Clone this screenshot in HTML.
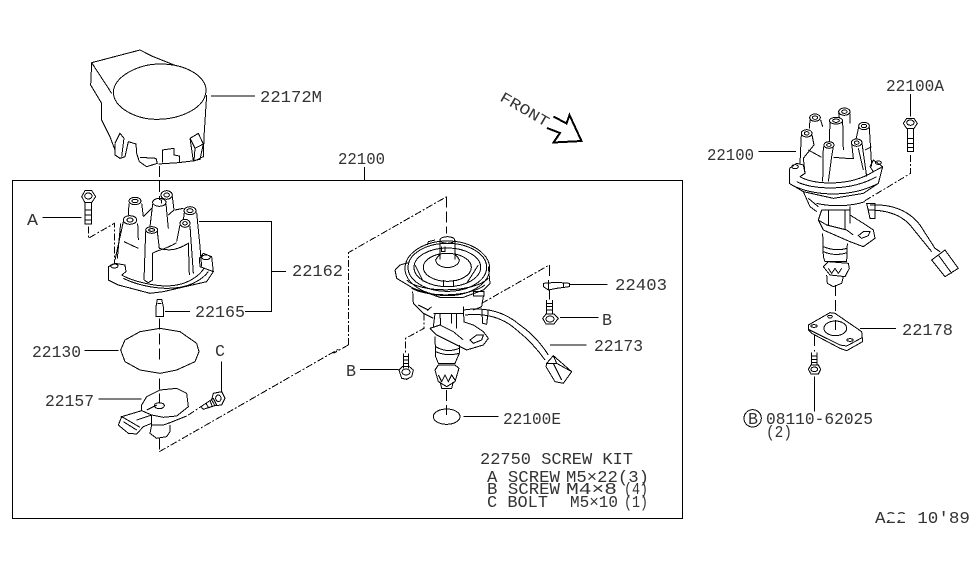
<!DOCTYPE html>
<html><head><meta charset="utf-8"><style>
html,body{margin:0;padding:0;background:#fff;width:975px;height:566px;overflow:hidden}
svg{display:block}
svg *{vector-effect:non-scaling-stroke}
path,ellipse,rect,circle{fill:none;stroke:#000;stroke-width:1;shape-rendering:crispEdges}
.d{stroke-dasharray:11 4}
.t{stroke-dasharray:7 2 2 2}
text{font-family:"Liberation Mono",monospace;font-size:17px;fill:#333;stroke:none}
</style></head><body>
<svg width="975" height="566" viewBox="0 0 975 566" xmlns="http://www.w3.org/2000/svg">
<rect x="12.5" y="180.5" width="670" height="338" style="stroke-width:1"/>
<path d="M364.5 167V180"/>

<g transform="translate(0,40) scale(.33333)">
<path d="M275 68L420 30L455 48L530 78M275 68L272 135L305 190L305 240L330 290L345 330M275 68L335 160"/>
<path d="M340 155C345 105 420 72 480 72C560 72 618 110 618 150C618 205 540 238 470 238C410 238 340 205 340 155Z"/>
<path d="M620 165L612 290L610 350L585 362L535 368L475 372M345 310L345 345L360 355L375 350L385 305L408 312L410 340L418 365L440 380L472 370L468 355L420 352M487 368L487 330L522 325L522 345L538 348L538 368M345 310L360 280L372 295L365 350M570 295L595 280L610 312L600 358L580 362L570 295M570 295L585 325L610 312M585 325L582 362"/>
<path d="M633 168H765M127 533H245M597 545H815V800M815 695H858"/>
<path class="d" d="M478 378V480"/>
<path d="M245 470L255 452L275 452L287 470L275 488L255 488ZM255 488V552H275V488M255 510H275M255 525H275M255 540H275"/>
<ellipse cx="265" cy="468" rx="11" ry="9"/>
<path class="t" d="M265 560V595L343 550V670"/>
<ellipse cx="500" cy="465" rx="17" ry="13"/><ellipse cx="500" cy="465" rx="8" ry="6"/>
<ellipse cx="405" cy="483" rx="18" ry="11"/><ellipse cx="405" cy="483" rx="9" ry="5"/>
<ellipse cx="478" cy="487" rx="20" ry="12"/>
<ellipse cx="570" cy="512" rx="18" ry="12"/><ellipse cx="570" cy="512" rx="9" ry="6"/>
<ellipse cx="390" cy="540" rx="20" ry="13"/><ellipse cx="390" cy="540" rx="9" ry="6"/>
<ellipse cx="455" cy="570" rx="18" ry="10"/><ellipse cx="455" cy="570" rx="9" ry="4"/>
<ellipse cx="555" cy="550" rx="15" ry="12"/><ellipse cx="555" cy="550" rx="7" ry="5"/>
<path d="M483 475L485 490M517 470L522 510L505 525M387 490L385 525M425 490L430 530M458 492L450 560M498 492L505 565M553 518L550 540M590 518L600 620L605 680M370 545L345 660M413 550L415 600M437 575L432 720M472 575L478 625M540 555L530 605M570 558L580 700M430 530L455 505M525 510L550 505M362 550L352 655"/>
<path d="M372 605L415 625M478 625C510 635 535 628 565 610L568 705M432 720L445 728L458 720L458 640C470 630 490 632 530 608"/>
<path d="M325 680L345 670L375 675L378 695L365 705M325 680L325 720L355 735L450 760L490 755L620 725L640 695L635 650L610 640L598 655L600 680L640 695"/>
<path d="M365 705C400 725 480 745 530 735C570 728 600 705 612 685M370 715C410 735 480 752 540 742C580 735 610 715 625 695"/>
<ellipse cx="343" cy="678" rx="11" ry="6"/><ellipse cx="618" cy="652" rx="13" ry="7"/>
</g>

<g transform="translate(0,290) scale(.33333)">
<path d="M472 28H485L490 50V80H468V50ZM472 40H485"/>
<path class="d" d="M478 85V215M478 265V340M478 445V485"/>
<path d="M362 180L375 150L420 125L480 115L540 125L590 160L597 185L585 215L530 240L480 250L420 240L375 215ZM735 65H815V0M495 65H570M253 182H355M295 327H425M665 215V305"/>
<path d="M425 345L440 320L480 300L530 295L560 310L565 350L530 378L490 382L455 375L425 362ZM425 362L365 380L355 405L385 430L410 432L430 410L455 400M362 378L420 412M370 395L410 420"/>
<ellipse cx="478" cy="347" rx="15" ry="9"/>
<path d="M440 360L470 345M410 390L455 375M455 375V405L450 430L470 445L500 440L510 425V405M455 405L490 405L510 398L560 378"/>
<path d="M603 350L640 325L650 345L610 358ZM640 310L665 305L675 325L665 345L645 347L635 330ZM618 340L625 352M630 332L636 347"/>
<ellipse cx="655" cy="325" rx="8" ry="10"/>
<path class="t" d="M565 375L603 350M478 485L1015 178"/>
</g>

<g transform="translate(340,190) scale(.33333)">
<path class="t" d="M25 465V188L320 20"/>
<path class="d" d="M320 20V130"/>
<path class="t" d="M25 465L-20 490"/>
<path d="M165 240L180 225L205 218M165 240L170 265L220 295L300 322L370 322L430 300L450 280L445 230"/>
<ellipse cx="322" cy="235" rx="127" ry="82"/><ellipse cx="322" cy="232" rx="118" ry="72"/><ellipse cx="322" cy="232" rx="100" ry="58"/><ellipse cx="322" cy="232" rx="72" ry="42"/>
<path d="M200 270C240 310 400 310 445 265M215 295C260 320 380 325 435 285M225 225L250 275M415 225L380 280M310 270V290M340 270V290M265 155L285 150M265 155L262 165"/>
<ellipse cx="322" cy="150" rx="22" ry="10"/>
<path d="M300 150V208M345 150V208M287 210C290 240 355 240 358 210M287 210C295 195 300 195 300 195M358 210C350 195 345 195 345 195M305 170V185H315V170"/>
<path d="M218 305L220 340L250 370L280 385M430 320L425 350L400 360M235 345L265 360M400 305H432V318H400Z"/>
<path d="M262 362L275 350M280 370H370M285 370L280 410M300 372L302 405M350 372L350 415M335 372L335 400M370 350L372 395"/>
<path d="M270 415L290 435L350 465L380 480L430 465L445 445L430 425L400 405L370 395M270 415L300 405L340 425L370 450"/>
<path d="M390 450L410 435L430 435L425 450L400 460Z"/>
<path d="M285 440L287 500L295 520L345 520L358 490L358 465M287 470Q320 490 358 475M287 485Q320 500 358 490"/>
<path d="M285 540L295 575L320 590L345 575L357 535L345 525L295 525ZM295 555L305 575L315 555L325 575L335 555L345 570M300 575L305 595L335 595L340 575"/>
<path class="d" d="M320 600V675"/>
<ellipse cx="320" cy="680" rx="40" ry="23"/>
<path d="M370 680H475M60 538H175M660 383H775M690 283H803M630 465H740"/>
<path d="M370 360Q470 345 540 405Q590 440 625 495M375 375Q470 365 530 420Q580 460 615 510"/>
<path d="M620 520L640 497L695 545L670 580L645 575L618 530ZM640 520L665 570M640 497L650 520L620 520M650 520L695 545"/>
<path d="M425 355L428 400L440 403L445 360"/>
<path class="t" d="M252 370V415L197 445V490M425 340L628 225"/>
<path class="d" d="M628 225V270"/>
<path d="M190 490V535M205 490V535M190 500H205M190 510H205M190 520H205M177 540L187 530H208L220 540L215 560L200 568L185 565Z"/>
<ellipse cx="198" cy="546" rx="12" ry="9"/>
<path d="M610 280L650 277L688 280V290L650 295L625 300L610 290ZM625 270V300M670 278V292"/>
<path class="d" d="M628 300V328"/>
<path d="M620 330V372M637 330V372M620 340H637M620 350H637M620 360H637M608 385L618 372H642L655 385L642 402H618Z"/>
<ellipse cx="630" cy="387" rx="12" ry="9"/>
</g>

<g transform="translate(690,70) scale(.33333)">
<ellipse cx="463" cy="125" rx="17" ry="11"/><ellipse cx="463" cy="125" rx="8" ry="5"/>
<ellipse cx="375" cy="143" rx="16" ry="11"/><ellipse cx="375" cy="143" rx="8" ry="5"/>
<ellipse cx="438" cy="152" rx="20" ry="10"/><ellipse cx="438" cy="152" rx="10" ry="5"/>
<ellipse cx="522" cy="168" rx="16" ry="11"/><ellipse cx="522" cy="168" rx="8" ry="5"/>
<ellipse cx="350" cy="190" rx="16" ry="11"/><ellipse cx="350" cy="190" rx="7" ry="5"/>
<ellipse cx="417" cy="225" rx="15" ry="10"/><ellipse cx="417" cy="225" rx="7" ry="4"/>
<ellipse cx="500" cy="218" rx="16" ry="11"/><ellipse cx="500" cy="218" rx="7" ry="5"/>
<path d="M446 130L448 142M480 130L480 160M360 150L358 175M392 150L398 170M420 155L418 215M458 155L460 240M506 172L498 208M538 172L545 290M334 195L330 280M366 195L372 225L340 265L345 310M400 230L398 335M430 230L425 260L415 335M485 220L490 265L470 265L430 262M516 220L530 320M525 240L545 230M355 240L395 262M505 235L520 300"/>
<path d="M298 295L320 280L340 285L345 310L330 320M298 295L298 340L340 365L430 385L520 370L565 340L578 290L550 270L540 290L550 305L578 290"/>
<path d="M330 320C370 345 480 350 550 305M320 335C370 360 480 365 560 320M305 345C370 378 480 385 565 340"/>
<ellipse cx="315" cy="290" rx="10" ry="6"/><ellipse cx="565" cy="278" rx="9" ry="5"/>
<path d="M340 365L360 410L380 425M355 385L385 410M380 400C420 410 480 410 525 395M395 420H480M395 420L385 450M415 420V465M465 420V480M480 410V460"/>
<path d="M385 450L400 480L480 515L520 530L555 505L550 480L520 460L480 435M385 450L410 465L470 480L490 495"/>
<path d="M505 497L520 485H540L535 497L515 505Z"/>
<path d="M398 490L400 560L405 575L470 575L472 520M400 530Q435 545 472 535M400 545Q435 560 472 548"/>
<path d="M400 590L415 575L475 580L478 595L465 620L420 615ZM415 595L425 610L435 595L445 610L455 595M410 615L412 640L430 650L455 640L460 620"/>
<path d="M540 405Q640 400 690 465L735 535M535 420Q620 420 660 465L725 545M530 400H555L555 445H540Z"/>
<path d="M725 570L765 540L805 595L765 620ZM745 555L785 610M735 535L750 545"/>
<path d="M205 245H318M662 72V140M640 160L650 145H672L682 160L672 175H650ZM652 175V245H670V175M652 205H670M652 220H670M652 232H670"/>
<ellipse cx="661" cy="158" rx="11" ry="8"/>
<path class="t" d="M662 255V310L525 392"/>
<path class="d" d="M436 645V720"/>
</g>

<g transform="translate(690,300) scale(.33333)">
<path class="d" d="M436 0V40M436 60V90"/>
<path d="M355 75L420 38L435 40L515 95L518 125L470 152L450 145L365 100L355 90ZM355 88L450 135L470 138L518 112"/>
<ellipse cx="372" cy="78" rx="9" ry="4"/><ellipse cx="420" cy="50" rx="7" ry="4"/><ellipse cx="480" cy="120" rx="9" ry="4"/><ellipse cx="436" cy="85" rx="34" ry="22"/>
<path d="M510 85H618M373 230V335M365 158V195H381V158M365 168H381M365 178H381M365 188H381M355 208L363 195H385L392 208L385 222H363Z"/>
<ellipse cx="373" cy="208" rx="10" ry="7"/>
<path class="d" d="M373 105V155"/>
<circle cx="188" cy="355" r="26"/>
</g>

<path d="M553.5 116.5L566.5 123.5L569.5 115L581.5 141L553.5 142.5L560 133L547 128" style="stroke-width:2"/>

<text x="260" y="102" textLength="62" lengthAdjust="spacingAndGlyphs">22172M</text>
<text x="338" y="164" textLength="47" lengthAdjust="spacingAndGlyphs">22100</text>
<text x="27" y="225" textLength="11" lengthAdjust="spacingAndGlyphs">A</text>
<text x="292" y="276" textLength="51" lengthAdjust="spacingAndGlyphs">22162</text>
<text x="195" y="317" textLength="50" lengthAdjust="spacingAndGlyphs">22165</text>
<text x="32" y="357" textLength="49" lengthAdjust="spacingAndGlyphs">22130</text>
<text x="215" y="356" textLength="10" lengthAdjust="spacingAndGlyphs">C</text>
<text x="45" y="406" textLength="49" lengthAdjust="spacingAndGlyphs">22157</text>
<text x="615" y="290" textLength="52" lengthAdjust="spacingAndGlyphs">22403</text>
<text x="602" y="325" textLength="10" lengthAdjust="spacingAndGlyphs">B</text>
<text x="594" y="351" textLength="49" lengthAdjust="spacingAndGlyphs">22173</text>
<text x="346" y="376" textLength="10" lengthAdjust="spacingAndGlyphs">B</text>
<text x="503" y="424" textLength="58" lengthAdjust="spacingAndGlyphs">22100E</text>
<text x="707" y="160" textLength="47" lengthAdjust="spacingAndGlyphs">22100</text>
<text x="886" y="91" textLength="58" lengthAdjust="spacingAndGlyphs">22100A</text>
<text x="902" y="335" textLength="51" lengthAdjust="spacingAndGlyphs">22178</text>
<text x="748" y="424" textLength="10" lengthAdjust="spacingAndGlyphs">B</text>
<text x="766" y="424" textLength="107" lengthAdjust="spacingAndGlyphs">08110-62025</text>
<text x="766" y="437" textLength="26" lengthAdjust="spacingAndGlyphs">(2)</text>
<text x="480" y="464" textLength="153" lengthAdjust="spacingAndGlyphs">22750 SCREW KIT</text>
<text x="487" y="482" textLength="73" lengthAdjust="spacingAndGlyphs">A SCREW</text>
<text x="566" y="482" textLength="83" lengthAdjust="spacingAndGlyphs">M5×22(3)</text>
<text x="487" y="494" textLength="73" lengthAdjust="spacingAndGlyphs">B SCREW</text>
<text x="566" y="494" textLength="51" lengthAdjust="spacingAndGlyphs">M4×8</text>
<text x="624" y="494" textLength="24" lengthAdjust="spacingAndGlyphs">(4)</text>
<text x="487" y="507" textLength="61" lengthAdjust="spacingAndGlyphs">C BOLT</text>
<text x="570" y="507" textLength="48" lengthAdjust="spacingAndGlyphs">M5×10</text>
<text x="624" y="507" textLength="24" lengthAdjust="spacingAndGlyphs">(1)</text>
<text x="875" y="523" textLength="95" lengthAdjust="spacingAndGlyphs">A22 10'89</text>
<rect x="887" y="514" width="19" height="6" style="fill:#fff;stroke:none"/>
<rect x="905" y="514" width="11" height="11" style="fill:#fff;stroke:none"/>
<text transform="translate(499,100) rotate(30)" x="0" y="0" textLength="54" lengthAdjust="spacingAndGlyphs" style="font-size:15px">FRONT</text>
</svg>
</body></html>
